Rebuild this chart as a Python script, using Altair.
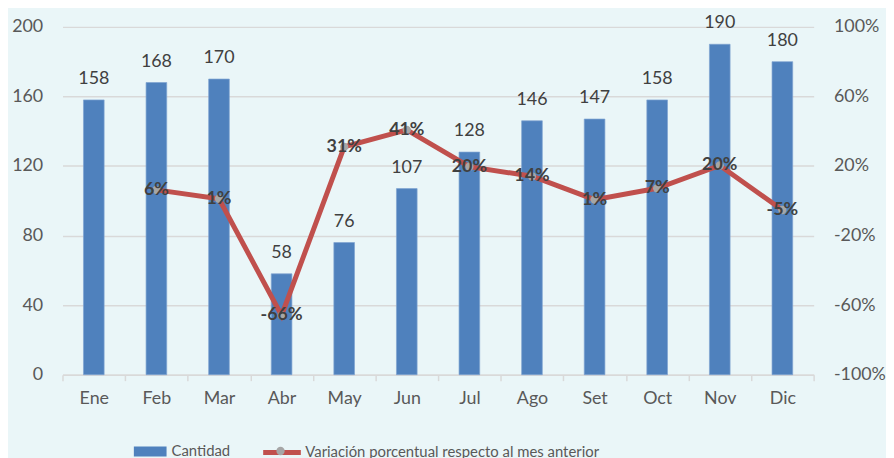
import altair as alt
import pandas as pd

meses = ["Ene", "Feb", "Mar", "Abr", "May", "Jun", "Jul", "Ago", "Set", "Oct", "Nov", "Dic"]
cantidad = [158, 168, 170, 58, 76, 107, 128, 146, 147, 158, 190, 180]
variacion = [None, 0.063, 0.012, -0.659, 0.310, 0.408, 0.196, 0.141, 0.007, 0.072, 0.203, -0.053]
serie_barras = "Cantidad"
serie_linea = "Variación porcentual respecto al mes anterior"

left_ticks = [0, 40, 80, 120, 160, 200]
right_ticks = [-1.0, -0.6, -0.2, 0.2, 0.6, 1.0]

df = pd.DataFrame({"mes": meses, "cantidad": cantidad, "variacion": variacion})
df["var_label"] = [None if v is None else f"{round(v * 100)}%" for v in variacion]
df["s_bar"] = serie_barras
df["s_line"] = serie_linea
df["s_pt"] = "m"

FONT = "Lato"
BLUE = "#4F81BD"
RED = "#C0504D"
AXIS_TXT = "#595959"
LBL_TXT = "#404040"

x_enc = alt.X(
    "mes:N", sort=meses, title=None,
    scale=alt.Scale(paddingInner=0, paddingOuter=0),
    axis=alt.Axis(labelAngle=0, labelFontSize=18, labelColor=AXIS_TXT, labelFont=FONT,
                  domainColor="#D9D9D9", domainWidth=1.5, tickColor="#D9D9D9", tickWidth=1.5,
                  tickSize=6, tickBand="extent", labelPadding=9, grid=False),
)

y_left = alt.Y(
    "cantidad:Q", title=None,
    scale=alt.Scale(domain=[0, 200], nice=False),
    axis=alt.Axis(values=left_ticks, labelFontSize=18, labelColor=AXIS_TXT, labelFont=FONT,
                  domain=False, ticks=False, labelPadding=20, grid=True,
                  gridColor="#D9D9D9", gridWidth=1.5),
)

bars = alt.Chart(df).mark_bar(width=alt.RelativeBandSize(0.33), stroke="#7FA3D0", strokeWidth=0.7).encode(
    x=x_enc,
    y=y_left,
    fill=alt.Fill("s_bar:N", scale=alt.Scale(range=[BLUE]),
                  legend=alt.Legend(title=None, orient="none", legendX=72, legendY=412,
                                    symbolType="M-1,-0.3H1V0.3H-1Z", symbolSize=1089,
                                    symbolStrokeWidth=0, labelFontSize=15, labelFont=FONT,
                                    labelColor=AXIS_TXT, labelOffset=5, padding=0, labelLimit=0)),
)

bar_text = alt.Chart(df).mark_text(baseline="bottom", dy=-12, fontSize=18, font=FONT, color=LBL_TXT).encode(
    x=alt.X("mes:N", sort=meses),
    y=alt.Y("cantidad:Q"),
    text="cantidad:Q",
)

y_right = alt.Y(
    "variacion:Q", title=None,
    scale=alt.Scale(domain=[-1, 1], nice=False),
    axis=alt.Axis(orient="right", values=right_ticks, labelFontSize=18, labelColor=AXIS_TXT,
                  labelFont=FONT, domain=False, ticks=False, labelPadding=20, grid=False,
                  labelExpr="toString(round(datum.value*100)) + '%'"),
)

line = alt.Chart(df).mark_line(strokeWidth=5).encode(
    x=alt.X("mes:N", sort=meses),
    y=y_right,
    stroke=alt.Stroke("s_line:N", scale=alt.Scale(range=[RED]),
                      legend=alt.Legend(title=None, orient="none", legendX=200, legendY=408,
                                        symbolType="stroke", symbolSize=1444,
                                        symbolStrokeWidth=5, labelFontSize=15, labelFont=FONT,
                                        labelColor=AXIS_TXT, labelOffset=2, padding=0, labelLimit=0)),
)

points = alt.Chart(df).mark_point(filled=True, color="#A6A6A6", size=70, opacity=1).encode(
    x=alt.X("mes:N", sort=meses),
    y=alt.Y("variacion:Q"),
    shape=alt.Shape("s_pt:N", scale=alt.Scale(range=["circle"]),
                    legend=alt.Legend(title=None, orient="none", legendX=215, legendY=423,
                                      symbolSize=70, symbolFillColor="#A6A6A6",
                                      symbolStrokeWidth=0, labelExpr="''", padding=0)),
)

line_text = alt.Chart(df).mark_text(baseline="middle", fontSize=18, fontWeight="bold", font=FONT,
                                    color=LBL_TXT).encode(
    x=alt.X("mes:N", sort=meses),
    y=alt.Y("variacion:Q"),
    text="var_label:N",
)

left = alt.layer(bars, bar_text)
right = alt.layer(line, points, line_text)

chart = alt.layer(left, right).resolve_scale(y="independent").properties(
    width=758, height=351,
    autosize=alt.AutoSizeParams(type="none"),
    padding={"left": 55, "top": 17, "right": 73, "bottom": 82},
    background="#EAF6F8",
).configure_view(stroke=None)

chart.save("out.html", embed_options={"renderer": "svg", "actions": False})
